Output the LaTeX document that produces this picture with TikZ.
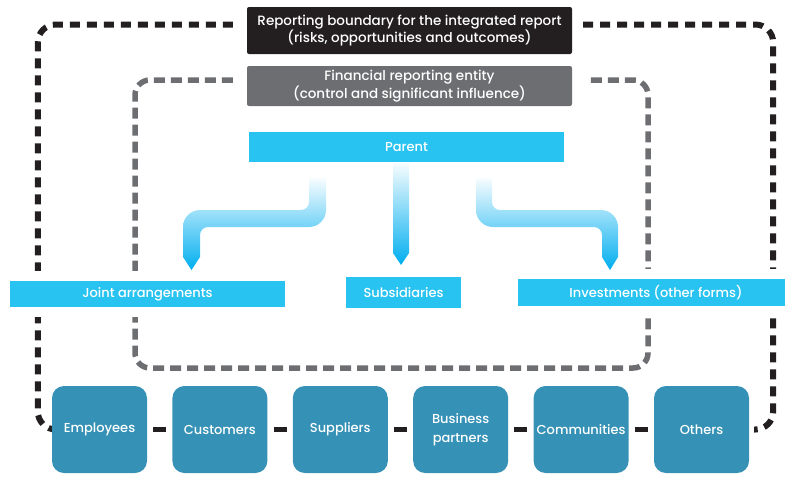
\documentclass[tikz,border=0pt]{standalone}
\usepackage{fontspec}
\setmainfont{Poppins}[UprightFont=* Medium]
\usetikzlibrary{positioning, backgrounds}
\definecolor{boundBlack}{HTML}{231F20}
\definecolor{entityGray}{HTML}{6D6E71}
\definecolor{boxCyan}{HTML}{29C3F1}
\definecolor{arrowCyan}{HTML}{00AEEF}
\definecolor{stakeTeal}{HTML}{3591B5}

\begin{document}
\begin{tikzpicture}[x=1pt, y=-1pt,
    every node/.style={font=\fontsize{13}{16}\selectfont, text=white, align=center, inner sep=0pt},
    label box/.style={rounded corners=2pt, minimum width=325pt, font=\fontsize{13.5}{16}\selectfont},
    cyan box/.style={fill=boxCyan, preaction={draw=white, line width=20pt}},
    stake/.style={fill=stakeTeal, rounded corners=12pt, minimum width=95pt, minimum height=87pt,
      font=\fontsize{13}{19}\selectfont},
    outer dash/.style={boundBlack, line width=6pt, dash pattern=on 10pt off 7pt, rounded corners=18pt},
    inner dash/.style={entityGray, line width=5.5pt, dash pattern=on 11pt off 6pt, rounded corners=15pt},
    link/.style={boundBlack, line width=5.5pt},
    flow/.style={top color=arrowCyan!3, middle color=arrowCyan!50, bottom color=arrowCyan}]
  \useasboundingbox (0,0) rectangle (785,477);

  % headings
  \node[fill=boundBlack, label box, minimum height=47pt] (bound) at (409.5,30.5)
    {Reporting boundary for the integrated report\\(risks, opportunities and outcomes)};
  \node[fill=entityGray, label box, minimum height=40pt] (entity) at (409.5,86)
    {Financial reporting entity\\(control and significant influence)};

  % group structure
  \node[fill=boxCyan, minimum width=315pt, minimum height=30pt] (parent) at (406.5,147) {Parent};
  \node[cyan box, minimum width=275pt, minimum height=26pt] (joint) at (147.5,294) {Joint arrangements};
  \node[cyan box, minimum width=115pt, minimum height=31pt] (subs) at (403.5,292.5) {Subsidiaries};
  \node[cyan box, minimum width=276pt, minimum height=27pt] (invest) at (656,292.5) {Investments (other forms)};

  \shade[flow] (393,163) -- (409,163) -- (409,253) -- (401,265) -- (393,253) -- cycle;
  \shade[flow] (317,178) -- (326,178) [rounded corners=17pt] -- (326,227) [rounded corners=8pt]
    -- (200,227) [sharp corners] -- (200,257) -- (191.5,270) -- (183,257) [rounded corners=17pt]
    -- (183,210) [rounded corners=8pt] -- (309,210) [sharp corners] -- (309,178) -- cycle;
  \shade[flow] (484,178) -- (492,178) [rounded corners=8pt] -- (492,210) [rounded corners=17pt]
    -- (618,210) [sharp corners] -- (618,257) -- (610,270) -- (602,257) [rounded corners=8pt]
    -- (602,227) [rounded corners=17pt] -- (476,227) [sharp corners] -- (476,178) -- cycle;

  % stakeholders
  \node[stake] (emp) at (99.5,429.5) {Employees};
  \node[stake, right=25pt of emp] (cust) {Customers};
  \node[stake, right=25pt of cust] (supp) {Suppliers};
  \node[stake, right=25pt of supp] (partn) {Business\\partners};
  \node[stake, right=25pt of partn] (comm) {Communities};
  \node[stake, right=25pt of comm] (oth) {Others};
  \foreach \a/\b in {emp/cust, cust/supp, supp/partn, partn/comm, comm/oth}
    \draw[link] ([xshift=6pt]\a.east) -- ([xshift=-6pt]\b.west);

  \begin{scope}[on background layer]
    \draw[outer dash] ([xshift=-14pt,yshift=6pt]bound.west) -| ([xshift=-14pt]emp.west) -- ([xshift=-3pt]emp.west);
    \draw[outer dash] ([xshift=11pt,yshift=6pt]bound.east) -| ([xshift=24pt]oth.east) -- ([xshift=5pt]oth.east);
    \coordinate (fin-sw) at (135,368);
    \coordinate (fin-ne) at (648,80);
    \draw[inner dash] ([xshift=-14pt,yshift=6pt]entity.west) -| (fin-sw) -| (fin-ne)
      -- ([xshift=13pt,yshift=6pt]entity.east);
  \end{scope}
\end{tikzpicture}
\end{document}
